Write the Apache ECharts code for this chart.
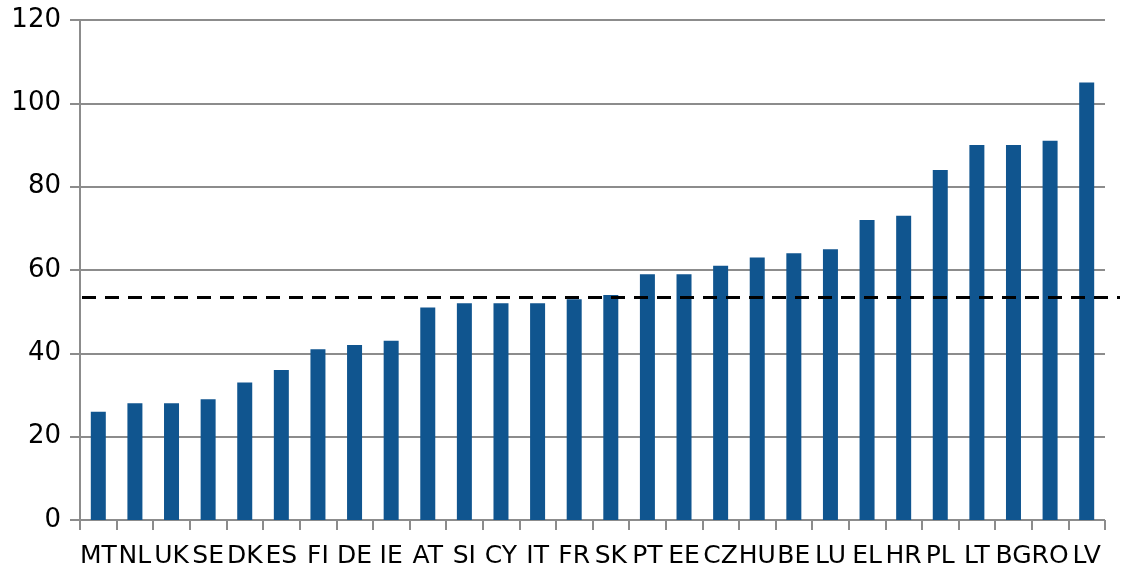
<!DOCTYPE html>
<html>
<head>
<meta charset="utf-8">
<script src="https://cdn.jsdelivr.net/npm/echarts@6/dist/echarts.min.js"></script>
<style>
  html, body { margin: 0; padding: 0; background: #fff; }
  #main { width: 1122px; height: 570px; }
</style>
</head>
<body>
<div id="main"></div>
<script>
// 国家代码与数值
const countries = ['MT', 'NL', 'UK', 'SE', 'DK', 'ES', 'FI', 'DE', 'IE', 'AT', 'SI', 'CY', 'IT', 'FR',
  'SK', 'PT', 'EE', 'CZ', 'HU', 'BE', 'LU', 'EL', 'HR', 'PL', 'LT', 'BG', 'RO', 'LV'];
const values = [26, 28, 28, 29, 33, 36, 41, 42, 43, 51, 52, 52, 52, 53,
  54, 59, 59, 61, 63, 64, 65, 72, 73, 84, 90, 90, 91, 105];
// 平均值虚线
const average = 53.4;
const yTicks = [0, 20, 40, 60, 80, 100, 120];

const chart = echarts.init(document.getElementById('main'));
const font = 'DejaVu Sans, Verdana, sans-serif';

chart.setOption({
  animation: false,
  grid: [
    { left: 80, right: 17, top: 20, bottom: 50 },
    { left: 82, right: 2, top: 20, bottom: 50 }
  ],
  xAxis: [
    {
      type: 'category',
      data: countries,
      gridIndex: 0,
      axisLine: { show: false },
      axisTick: { show: true, length: 10, lineStyle: { color: '#8c8c8c', width: 2 } },
      axisLabel: { interval: 0, color: '#000', fontFamily: font, fontSize: 25, margin: 24 }
    },
    { type: 'value', gridIndex: 1, min: 0, max: 1, show: false }
  ],
  yAxis: [
    {
      type: 'value',
      gridIndex: 0,
      min: yTicks[0],
      max: yTicks[yTicks.length - 1],
      interval: 20,
      axisLine: { show: true, lineStyle: { color: '#8c8c8c', width: 2 } },
      axisTick: { show: true, length: 10, inside: false, lineStyle: { color: '#8c8c8c', width: 2 } },
      splitLine: { lineStyle: { color: '#8c8c8c', width: 2 } },
      axisLabel: { color: '#000', fontFamily: font, fontSize: 26, margin: 19 }
    },
    { type: 'value', gridIndex: 1, min: 0, max: 120, show: false }
  ],
  series: [
    {
      type: 'bar',
      data: values,
      barWidth: 15,
      itemStyle: { color: '#10558f' }
    },
    {
      type: 'line',
      xAxisIndex: 1,
      yAxisIndex: 1,
      data: [[0, average], [1, average]],
      symbol: 'none',
      lineStyle: { color: '#000', width: 3, type: [14, 9] }
    }
  ]
});
</script>
</body>
</html>
